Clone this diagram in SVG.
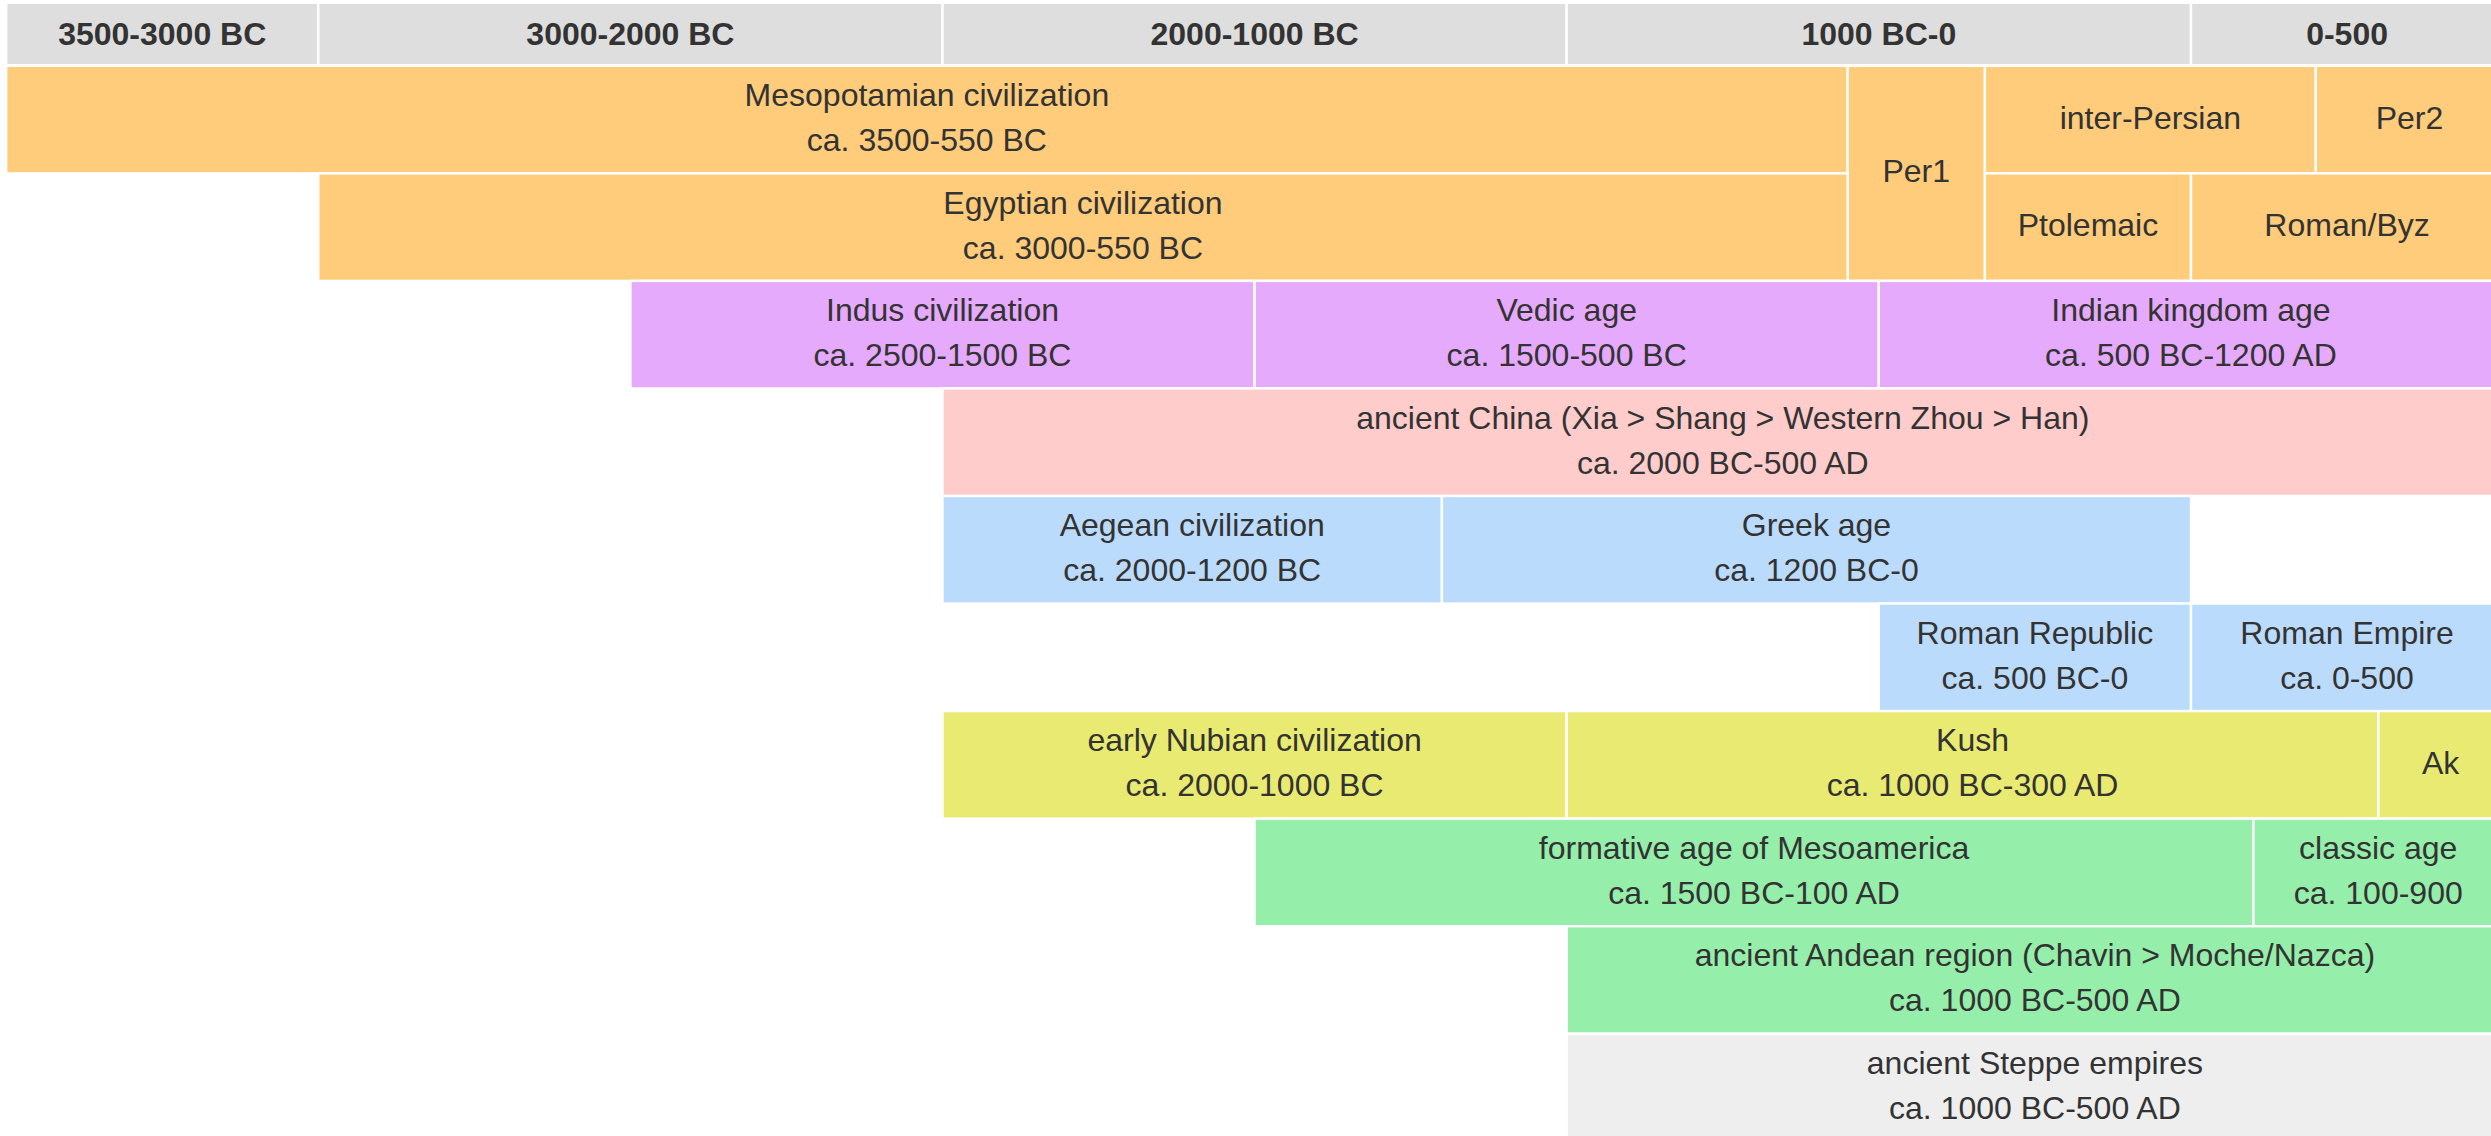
<svg xmlns="http://www.w3.org/2000/svg" width="2491" height="1136" viewBox="0 0 2491 1136">
<style>
rect{stroke:#ffffff;stroke-width:2.4}
text{font-family:"Liberation Sans",Arial,Helvetica,sans-serif;font-size:32px;fill:#333333;text-anchor:middle}
.h rect{fill:#dedede}
.h text{font-weight:bold}
.or rect{fill:#fecc7a}
.pu rect{fill:#e6aafd}
.pk rect{fill:#ffcccc}
.bl rect{fill:#bbdbfc}
.ye rect{fill:#e9ea72}
.gr rect{fill:#96eeab}
.gy rect{fill:#eeeeee}
</style>
<rect x="0" y="0" width="2491" height="1136" style="fill:#ffffff;stroke:none"/>
<g id="header" class="h">
<g id="h1"><rect x="6.2" y="2.8" width="312.1" height="62.4"/><text x="162.25" y="45">3500-3000 BC</text></g>
<g id="h2"><rect x="318.3" y="2.8" width="624.2" height="62.4"/><text x="630.4" y="45">3000-2000 BC</text></g>
<g id="h3"><rect x="942.5" y="2.8" width="624.2" height="62.4"/><text x="1254.6" y="45">2000-1000 BC</text></g>
<g id="h4"><rect x="1566.7" y="2.8" width="624.3" height="62.4"/><text x="1878.85" y="45">1000 BC-0</text></g>
<g id="h5"><rect x="2191" y="2.8" width="312.1" height="62.4"/><text x="2347.05" y="45">0-500</text></g>
</g>
<g id="mesopotamia" class="or"><rect x="6.2" y="65.8" width="1841.4" height="107.55"/><text x="926.9" y="106"><tspan x="926.9">Mesopotamian civilization</tspan><tspan x="926.9" y="151">ca. 3500-550 BC</tspan></text></g>
<g id="per1" class="or"><rect x="1847.6" y="65.8" width="137.3" height="215.1"/><text x="1916.25" y="182">Per1</text></g>
<g id="inter-persian" class="or"><rect x="1984.9" y="65.8" width="330.9" height="107.55"/><text x="2150.35" y="128.8">inter-Persian</text></g>
<g id="per2" class="or"><rect x="2315.8" y="65.8" width="187.3" height="107.55"/><text x="2409.45" y="128.8">Per2</text></g>
<g id="egypt" class="or"><rect x="318.3" y="173.35" width="1529.3" height="107.55"/><text x="1082.95" y="213.55"><tspan x="1082.95">Egyptian civilization</tspan><tspan x="1082.95" y="258.55">ca. 3000-550 BC</tspan></text></g>
<g id="ptolemaic" class="or"><rect x="1984.9" y="173.35" width="206.1" height="107.55"/><text x="2087.95" y="236.35">Ptolemaic</text></g>
<g id="romanbyz" class="or"><rect x="2191" y="173.35" width="312.1" height="107.55"/><text x="2347.05" y="236.35">Roman/Byz</text></g>
<g id="indus" class="pu"><rect x="630.4" y="280.9" width="624.2" height="107.55"/><text x="942.5" y="321.1"><tspan x="942.5">Indus civilization</tspan><tspan x="942.5" y="366.1">ca. 2500-1500 BC</tspan></text></g>
<g id="vedic" class="pu"><rect x="1254.6" y="280.9" width="624.2" height="107.55"/><text x="1566.7" y="321.1"><tspan x="1566.7">Vedic age</tspan><tspan x="1566.7" y="366.1">ca. 1500-500 BC</tspan></text></g>
<g id="indian-kingdom" class="pu"><rect x="1878.8" y="280.9" width="624.3" height="107.55"/><text x="2190.95" y="321.1"><tspan x="2190.95">Indian kingdom age</tspan><tspan x="2190.95" y="366.1">ca. 500 BC-1200 AD</tspan></text></g>
<g id="china" class="pk"><rect x="942.5" y="388.45" width="1560.6" height="107.55"/><text x="1722.8" y="428.65"><tspan x="1722.8">ancient China (Xia &gt; Shang &gt; Western Zhou &gt; Han)</tspan><tspan x="1722.8" y="473.65">ca. 2000 BC-500 AD</tspan></text></g>
<g id="aegean" class="bl"><rect x="942.5" y="496" width="499.4" height="107.55"/><text x="1192.2" y="536.2"><tspan x="1192.2">Aegean civilization</tspan><tspan x="1192.2" y="581.2">ca. 2000-1200 BC</tspan></text></g>
<g id="greek" class="bl"><rect x="1441.9" y="496" width="749.1" height="107.55"/><text x="1816.45" y="536.2"><tspan x="1816.45">Greek age</tspan><tspan x="1816.45" y="581.2">ca. 1200 BC-0</tspan></text></g>
<g id="roman-republic" class="bl"><rect x="1878.8" y="603.55" width="312.2" height="107.55"/><text x="2034.9" y="643.75"><tspan x="2034.9">Roman Republic</tspan><tspan x="2034.9" y="688.75">ca. 500 BC-0</tspan></text></g>
<g id="roman-empire" class="bl"><rect x="2191" y="603.55" width="312.1" height="107.55"/><text x="2347.05" y="643.75"><tspan x="2347.05">Roman Empire</tspan><tspan x="2347.05" y="688.75">ca. 0-500</tspan></text></g>
<g id="nubian" class="ye"><rect x="942.5" y="711.1" width="624.2" height="107.55"/><text x="1254.6" y="751.3"><tspan x="1254.6">early Nubian civilization</tspan><tspan x="1254.6" y="796.3">ca. 2000-1000 BC</tspan></text></g>
<g id="kush" class="ye"><rect x="1566.7" y="711.1" width="811.6" height="107.55"/><text x="1972.5" y="751.3"><tspan x="1972.5">Kush</tspan><tspan x="1972.5" y="796.3">ca. 1000 BC-300 AD</tspan></text></g>
<g id="ak" class="ye"><rect x="2378.3" y="711.1" width="124.8" height="107.55"/><text x="2440.7" y="774.1">Ak</text></g>
<g id="formative" class="gr"><rect x="1254.6" y="818.65" width="998.8" height="107.55"/><text x="1754" y="858.85"><tspan x="1754">formative age of Mesoamerica</tspan><tspan x="1754" y="903.85">ca. 1500 BC-100 AD</tspan></text></g>
<g id="classic" class="gr"><rect x="2253.4" y="818.65" width="249.7" height="107.55"/><text x="2378.25" y="858.85"><tspan x="2378.25">classic age</tspan><tspan x="2378.25" y="903.85">ca. 100-900</tspan></text></g>
<g id="andean" class="gr"><rect x="1566.7" y="926.2" width="936.4" height="107.55"/><text x="2034.9" y="966.4"><tspan x="2034.9">ancient Andean region (Chavin &gt; Moche/Nazca)</tspan><tspan x="2034.9" y="1011.4">ca. 1000 BC-500 AD</tspan></text></g>
<g id="steppe" class="gy"><rect x="1566.7" y="1033.75" width="936.4" height="107.55"/><text x="2034.9" y="1073.95"><tspan x="2034.9">ancient Steppe empires</tspan><tspan x="2034.9" y="1118.95">ca. 1000 BC-500 AD</tspan></text></g>
<g id="connectors"/>
</svg>
